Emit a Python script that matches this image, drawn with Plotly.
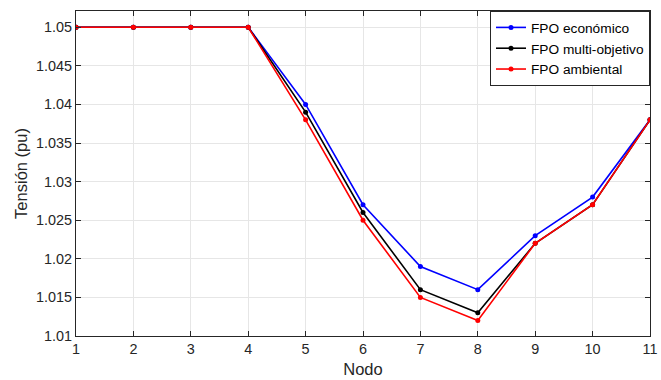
import plotly.graph_objects as go

nodos = list(range(1, 12))
fpo_economico = [1.05, 1.05, 1.05, 1.05, 1.040, 1.027, 1.019, 1.016, 1.023, 1.028, 1.038]
fpo_multi = [1.05, 1.05, 1.05, 1.05, 1.039, 1.026, 1.016, 1.013, 1.022, 1.027, 1.038]
fpo_ambiental = [1.05, 1.05, 1.05, 1.05, 1.038, 1.025, 1.015, 1.012, 1.022, 1.027, 1.038]
y_ticks = [1.01, 1.015, 1.02, 1.025, 1.03, 1.035, 1.04, 1.045, 1.05]
y_labels = ["1.01", "1.015", "1.02", "1.025", "1.03", "1.035", "1.04", "1.045", "1.05"]

fig = go.Figure()
for name, vals, col in [("FPO económico", fpo_economico, "#0000FF"),
                        ("FPO multi-objetivo", fpo_multi, "#000000"),
                        ("FPO ambiental", fpo_ambiental, "#FF0000")]:
    fig.add_trace(go.Scatter(x=nodos, y=vals, name=name, mode="lines+markers",
                             line=dict(color=col, width=1.6),
                             marker=dict(color=col, size=5)))

fig.update_layout(
    width=661, height=380,
    margin=dict(l=76, r=11, t=11, b=44, autoexpand=False),
    paper_bgcolor="white", plot_bgcolor="white",
    font=dict(family="Liberation Sans, Arial, sans-serif", size=14, color="#262626"),
    legend=dict(x=1, y=1, xanchor="right", yanchor="top",
                bgcolor="white", bordercolor="#262626", borderwidth=1,
                font=dict(size=13.7, color="#000000"),
                tracegroupgap=0, itemwidth=30),
    showlegend=True,
)
fig.update_xaxes(range=[1, 11], tickvals=nodos, ticks="inside", ticklen=5,
                 tickcolor="#262626", showline=True, linecolor="#262626", linewidth=1,
                 mirror="ticks", showgrid=True, gridcolor="#E6E6E6", gridwidth=1,
                 zeroline=False, automargin=False,
                 title=dict(text="Nodo", standoff=7, font=dict(size=16.5, color="#262626")),
                 tickfont=dict(size=14.4, color="#262626"))
fig.update_yaxes(range=[1.01, 1.0521], tickvals=y_ticks, ticktext=y_labels, ticks="inside",
                 ticklen=5, tickcolor="#262626", showline=True, linecolor="#262626",
                 linewidth=1, mirror="ticks", showgrid=True, gridcolor="#E6E6E6",
                 gridwidth=1, zeroline=False, automargin=False,
                 title=dict(text="Tensión (pu)", standoff=4, font=dict(size=16.5, color="#262626")),
                 tickfont=dict(size=14.4, color="#262626"))

fig.write_html("out.html", config={"displayModeBar": False},
               post_script="document.body.style.margin='0';document.body.style.overflow='hidden';")
